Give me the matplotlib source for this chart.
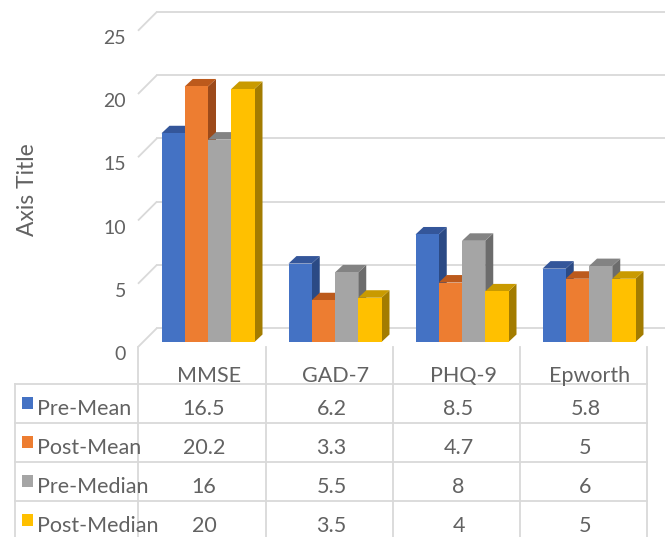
import matplotlib
matplotlib.use("Agg")
import matplotlib.pyplot as plt

categories = ["MMSE", "GAD-7", "PHQ-9", "Epworth"]
series_names = ["Pre-Mean", "Post-Mean", "Pre-Median", "Post-Median"]
pre_mean = [16.5, 6.2, 8.5, 5.8]
post_mean = [20.2, 3.3, 4.7, 5]
pre_median = [16, 5.5, 8, 6]
post_median = [20, 3.5, 4, 5]
table_text = [["16.5", "6.2", "8.5", "5.8"],
              ["20.2", "3.3", "4.7", "5"],
              ["16", "5.5", "8", "6"],
              ["20", "3.5", "4", "5"]]
yticks = [0, 5, 10, 15, 20, 25]

series = [pre_mean, post_mean, pre_median, post_median]
front_c = ["#4472C4", "#ED7D31", "#A5A5A5", "#FFC000"]
top_c = ["#34569A", "#BC5A1C", "#838383", "#C99A00"]
side_c = ["#2B4A85", "#9C4A1A", "#6C6C6C", "#A37C00"]
grid_c = "#D9D9D9"
text_c = "#626262"
font = "Lato"

W, H = 665, 537
fig = plt.figure(figsize=(W / 100, H / 100), dpi=100)
ax = fig.add_axes([0, 0, 1, 1])

# one data unit on x = one category, on y = one value unit
PX_CAT = 127.0
PX_UNIT = 12.65
X0 = 208.0   # pixel centre of first bar group
Y0 = 342.0   # pixel row of the bar baseline (from top)
ax.set_xlim(-X0 / PX_CAT, (W - X0) / PX_CAT)
ax.set_ylim((Y0 - H) / PX_UNIT, Y0 / PX_UNIT)
ax.axis("off")


def dx(p):
    return p / PX_CAT


def dy(p):
    return p / PX_UNIT


def px(x, y):
    # pixel (from top-left) -> data coords
    return (x - X0) / PX_CAT, (Y0 - y) / PX_UNIT


# walls: back gridlines and side-wall diagonals
xl_front = px(138, 0)[0]
xl_back = px(157, 0)[0]
for v in yticks:
    yf = v - dy(5)
    yb = v + dy(14)
    ax.plot([xl_front, xl_back], [yf, yb], color=grid_c, lw=1.3, zorder=1,
            solid_capstyle="butt")
    ax.plot([xl_back, ax.get_xlim()[1]], [yb, yb], color=grid_c, lw=1.3,
            zorder=1)
    tx, _ = px(126, 0)
    ax.text(tx, yf - dy(13), str(v), ha="right", va="baseline", fontsize=14,
            color=text_c, family=font)

ax.text(*px(27, 190), "Axis Title", rotation=90, ha="center", va="center",
        fontsize=16.5, color=text_c, family=font)

# 3D-ish columns
w = 23.25 / PX_CAT
ddx, ddy = dx(8), dy(7.5)
for j, vals in enumerate(series):
    for i, v in enumerate(vals):
        xc = i + (j - 1.5) * w
        xl, xr = xc - w / 2, xc + w / 2
        z = 3 + j
        ax.fill([xr, xr, xr + ddx, xr + ddx], [0, v, v + ddy, ddy],
                color=side_c[j], lw=0, zorder=z)
        ax.fill([xl, xr, xr + ddx, xl + ddx], [v, v, v + ddy, v + ddy],
                color=top_c[j], lw=0, zorder=z)
        ax.bar(xc, v, width=w, color=front_c[j], lw=0, zorder=z)

# data table
col_edges = [138, 266, 393, 520, 647]
row_edges = [384, 423, 462, 501, 540]
for y in row_edges[:-1]:
    ax.plot([px(15, 0)[0], px(647, 0)[0]], [px(0, y)[1]] * 2, color=grid_c,
            lw=1.3, zorder=1)
ax.plot([px(15, 0)[0]] * 2, [px(0, 384)[1], px(0, 540)[1]], color=grid_c,
        lw=1.3, zorder=1)
for x in col_edges:
    ax.plot([px(x, 0)[0]] * 2, [px(0, 347)[1], px(0, 540)[1]], color=grid_c,
            lw=1.3, zorder=1)

for i, cat in enumerate(categories):
    ax.text(i + dx(1), px(0, 382)[1], cat, ha="center", va="baseline",
            fontsize=15.5, color=text_c, family=font)

for r, name in enumerate(series_names):
    top = row_edges[r]
    k0 = px(22, top + 25)
    ax.add_patch(plt.Rectangle(k0, dx(11), dy(12), color=front_c[r], lw=0))
    ax.text(*px(37, top + 31), name, ha="left", va="baseline", fontsize=15.5,
            color=text_c, family=font)
    for c in range(4):
        cx = (col_edges[c] + col_edges[c + 1]) / 2 + 2
        ax.text(*px(cx, top + 31), table_text[r][c], ha="center",
                va="baseline", fontsize=15.5, color=text_c, family=font)

fig.savefig("out.png", dpi=100)
